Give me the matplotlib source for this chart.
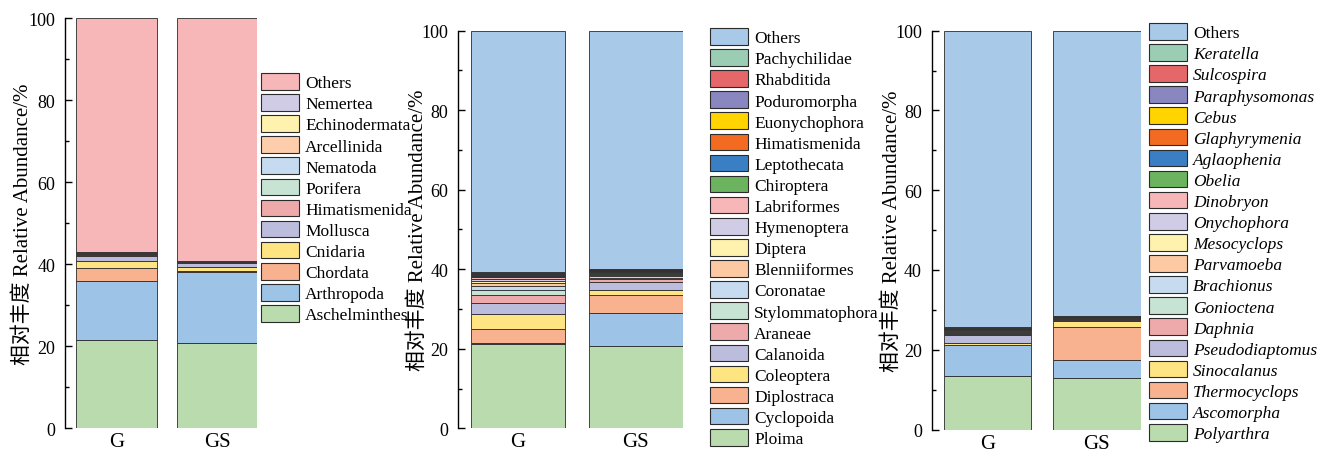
import numpy as np
import matplotlib
matplotlib.use("Agg")
import matplotlib.pyplot as plt
from matplotlib.patches import Patch
from matplotlib.ticker import MultipleLocator

plt.rcParams['font.family'] = ['Liberation Serif', 'Noto Sans CJK SC']

samples = ["G", "GS"]

# Phylum level (bottom -> top)
phylum_names = ["Aschelminthes", "Arthropoda", "Chordata", "Cnidaria", "Mollusca",
                "Himatismenida", "Porifera", "Nematoda", "Arcellinida",
                "Echinodermata", "Nemertea", "Others"]
phylum_G = [21.5, 14.4, 3.1, 1.7, 1.4, 0.2, 0.15, 0.15, 0.1, 0.1, 0.1, 57.1]
phylum_GS = [20.8, 17.3, 0.3, 1.0, 0.8, 0.1, 0.1, 0.1, 0.1, 0.05, 0.05, 59.3]
phylum_colors = ["#b9dbae", "#9dc3e6", "#f9b28f", "#fee582", "#bcbddc", "#eeaaaa",
                 "#c7e3d4", "#c6dbef", "#fdcdac", "#fff2ae", "#d0cce6", "#f7b6b7"]

# Order level (bottom -> top)
order_names = ["Ploima", "Cyclopoida", "Diplostraca", "Coleoptera", "Calanoida",
               "Araneae", "Stylommatophora", "Coronatae", "Blenniiformes", "Diptera",
               "Hymenoptera", "Labriformes", "Chiroptera", "Leptothecata",
               "Himatismenida", "Euonychophora", "Poduromorpha", "Rhabditida",
               "Pachychilidae", "Others"]
order_G = [21.1, 0.3, 3.6, 3.75, 2.7, 2.1, 1.3, 1.0, 0.8, 0.5, 0.5, 0.4, 0.2, 0.2,
           0.2, 0.2, 0.15, 0.15, 0.1, 60.75]
order_GS = [20.75, 8.15, 4.5, 1.4, 2.0, 0.7, 0.4, 0.4, 0.3, 0.3, 0.2, 0.2, 0.15,
            0.15, 0.1, 0.1, 0.1, 0.1, 0.1, 59.9]

# Genus level (bottom -> top)
genus_names = ["Polyarthra", "Ascomorpha", "Thermocyclops", "Sinocalanus",
               "Pseudodiaptomus", "Daphnia", "Gonioctena", "Brachionus",
               "Parvamoeba", "Mesocyclops", "Onychophora", "Dinobryon", "Obelia",
               "Aglaophenia", "Glaphyrymenia", "Cebus", "Paraphysomonas",
               "Sulcospira", "Keratella", "Others"]
genus_G = [13.5, 7.6, 0.2, 0.5, 1.8, 0.4, 0.3, 0.2, 0.2, 0.15, 0.15, 0.1, 0.1, 0.1,
           0.1, 0.05, 0.05, 0.05, 0.05, 74.4]
genus_GS = [12.9, 4.55, 8.15, 1.6, 0.2, 0.2, 0.1, 0.1, 0.1, 0.1, 0.05, 0.05, 0.05,
            0.05, 0.05, 0.05, 0.05, 0.05, 0.05, 71.35]

long_colors = ["#b9dbae", "#9dc3e6", "#f9b28f", "#fee582", "#bcbddc", "#eeaaaa",
               "#c7e3d4", "#c6dbef", "#fdc9a3", "#fff2ae", "#d0cce6", "#f7b6b7",
               "#6bb35f", "#3a7fc4", "#f26b21", "#ffd400", "#8986c0", "#e5676a",
               "#9acdb4", "#a9c9e8"]

W, H = 1317, 452
fig = plt.figure(figsize=(W / 100, H / 100), dpi=100)


def add_panel(left, right, bottom, top, names, vals_g, vals_gs, colors,
              leg_x, leg_y, label_x, italic=False):
    ax = fig.add_axes([left / W, 1 - bottom / H, (right - left) / W, (bottom - top) / H])
    x = np.arange(len(samples))
    data = np.array([vals_g, vals_gs]).T
    base = np.zeros(len(samples))
    for row, c in zip(data, colors):
        ax.bar(x, row, 0.8, bottom=base, color=c, edgecolor="#2b2b2b", linewidth=0.6)
        base += row
    ax.set_xlim(-0.51, 1.4)
    ax.set_ylim(0, 100)
    ax.set_xticks(x)
    ax.set_xticklabels(samples, fontsize=15)
    ax.tick_params(axis="x", length=0, pad=3)
    ax.yaxis.set_major_locator(MultipleLocator(20))
    ax.yaxis.set_minor_locator(MultipleLocator(10))
    ax.tick_params(axis="y", which="major", direction="in", length=5, width=1,
                   labelsize=13, pad=7)
    ax.tick_params(axis="y", which="minor", direction="in", length=3, width=1)
    for s in ["top", "right", "bottom"]:
        ax.spines[s].set_visible(False)
    ax.spines["left"].set_linewidth(1)
    ax.set_ylabel("相对丰度 Relative Abundance/%", fontsize=15)
    ax.yaxis.set_label_coords((label_x - left) / (right - left), 0.5)

    handles = [Patch(facecolor=c, edgecolor="#2b2b2b", linewidth=0.8)
               for c in colors][::-1]
    labels = names[::-1]
    leg = fig.legend(handles, labels, loc="upper left",
                     bbox_to_anchor=(leg_x / W, 1 - leg_y / H), frameon=False,
                     fontsize=12.5, handlelength=2.2, handleheight=1.1,
                     labelspacing=0.165, handletextpad=0.35, borderpad=0,
                     borderaxespad=0)
    if italic:
        for t in leg.get_texts():
            if t.get_text() != "Others":
                t.set_fontstyle("italic")
    return ax


add_panel(65, 257.3, 429.3, 19.3, phylum_names, phylum_G, phylum_GS,
          phylum_colors, 261, 74, 33)
add_panel(458, 683, 429.3, 31.5, order_names, order_G, order_GS,
          long_colors, 710, 29, 428)
add_panel(931.7, 1140.7, 430.5, 31.7, genus_names, genus_G, genus_GS,
          long_colors, 1149, 24, 902, italic=True)

fig.savefig("out.png", dpi=100)
